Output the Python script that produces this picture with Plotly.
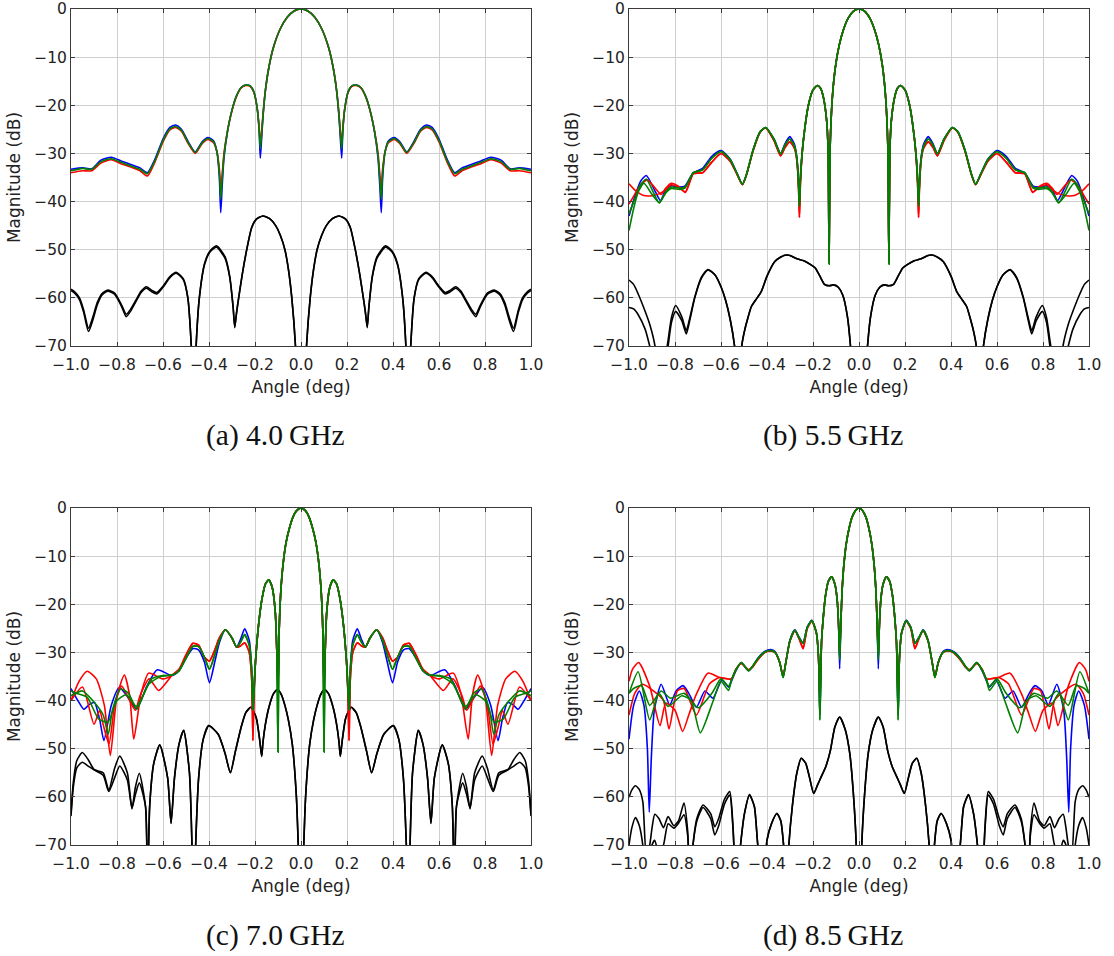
import plotly.graph_objects as go

# ---------------- Panel (a) 4.0 GHz : positive half (mirrored about 0) ----------------
A_x = [0, 0.03, 0.06, 0.09, 0.12, 0.14, 0.155, 0.165, 0.172, 0.177, 0.182, 0.19, 0.205, 0.22, 0.24,
       0.26, 0.28, 0.30, 0.32, 0.335, 0.343, 0.349, 0.355, 0.365, 0.38, 0.405, 0.43, 0.46, 0.49, 0.52,
       0.545, 0.57, 0.60, 0.635, 0.668, 0.70, 0.74, 0.78, 0.825, 0.87, 0.91, 0.95, 1.0]
A_green = [0, -0.4, -1.7, -4.1, -8.0, -12.2, -17.0, -22.0, -26.5, -29.0, -25.0, -20.8, -17.2, -16.0, -15.8,
           -16.3, -18.0, -21.0, -25.5, -30.5, -35.5, -39.5, -34.0, -29.8, -27.6, -26.9, -27.8, -29.8, -27.8, -25.2,
           -24.4, -24.9, -27.3, -31.5, -34.2, -33.3, -32.6, -31.9, -31.1, -31.7, -33.3, -33.1, -33.6]
A_blue = [0, -0.4, -1.7, -4.1, -8.0, -12.2, -17.0, -22.2, -27.5, -31.0, -25.2, -20.8, -17.2, -16.0, -15.8,
          -16.3, -18.0, -21.0, -25.6, -31.0, -37.0, -42.3, -35.0, -29.8, -27.4, -26.7, -27.6, -29.7, -27.6, -25.0,
          -24.1, -24.6, -27.0, -31.2, -34.0, -33.0, -32.3, -31.6, -30.8, -31.4, -33.2, -33.0, -33.3]
A_red = [0, -0.4, -1.7, -4.1, -8.0, -12.2, -17.0, -21.8, -25.8, -28.0, -24.6, -20.8, -17.3, -16.1, -15.9,
         -16.4, -18.1, -21.1, -25.4, -30.0, -34.5, -37.0, -33.2, -29.8, -27.8, -27.1, -28.0, -30.0, -28.0, -25.4,
         -24.6, -25.1, -27.6, -31.8, -34.7, -33.6, -32.8, -32.2, -31.3, -32.0, -33.6, -33.6, -34.0]
A_kx = [0, 0.012, 0.024, 0.04, 0.055, 0.07, 0.09, 0.11, 0.135, 0.166, 0.195, 0.215, 0.236, 0.255, 0.271,
        0.28, 0.288, 0.295, 0.31, 0.33, 0.367, 0.395, 0.419, 0.442, 0.456, 0.466, 0.477, 0.492, 0.512, 0.543,
        0.57, 0.6, 0.627, 0.65, 0.672, 0.695, 0.718, 0.74, 0.76, 0.78, 0.81, 0.84, 0.865, 0.886, 0.905,
        0.924, 0.945, 0.963, 0.985, 1.0]
A_k1 = [-100, -85, -70, -60, -54, -50, -47, -45, -43.6, -43.0, -43.7, -45.5, -50, -55, -60,
        -63, -66.2, -62, -55.5, -51.5, -49.2, -50.2, -52.8, -60, -70, -85, -70, -60, -56, -54.7,
        -55.6, -57.6, -58.9, -58.4, -57.7, -58.6, -60.5, -62.3, -63.4, -61.5, -59, -58.4, -59.1, -61, -64,
        -66.3, -62.5, -60, -58.7, -58.2]
A_k2 = [-100, -85, -70, -60, -54, -50, -47, -45, -43.6, -43.0, -43.7, -45.5, -50, -55, -60,
        -63, -66.0, -62, -55.7, -51.8, -49.5, -50.4, -53.0, -60, -70, -85, -70, -60, -56.2, -54.9,
        -55.8, -57.8, -59.2, -58.7, -58.0, -58.9, -60.8, -62.7, -63.9, -61.8, -59.3, -58.6, -59.4, -61.5, -64.6,
        -67.0, -63, -60.4, -59, -58.5]

# ---------------- Panel (b) 5.5 GHz ----------------
B_x = [0, 0.025, 0.047, 0.067, 0.085, 0.1, 0.112, 0.12, 0.126, 0.13, 0.134, 0.14, 0.155, 0.168, 0.181,
       0.2, 0.22, 0.24, 0.25, 0.256, 0.259, 0.263, 0.27, 0.28, 0.301, 0.322, 0.341, 0.37, 0.406, 0.43,
       0.46, 0.49, 0.507, 0.53, 0.56, 0.6, 0.64, 0.68, 0.72]
B_blue = [0, -0.5, -1.9, -4.2, -7.3, -11.2, -16.1, -21.7, -29.9, -52, -30, -23.5, -18.3, -16.4, -15.9,
          -16.8, -20, -26.5, -31.5, -36.5, -41, -36, -31, -28.2, -26.5, -28, -30, -27, -24.6, -25.5,
          -29.2, -34.5, -36.4, -34.2, -31.2, -29.4, -30.6, -33.1, -34]
B_green = [0, -0.5, -1.9, -4.2, -7.3, -11.2, -16.1, -21.7, -29.9, -53, -30, -23.5, -18.3, -16.4, -15.9,
           -16.8, -20, -26.5, -31.5, -36.5, -41, -36, -31, -28.6, -27.0, -28.3, -30.1, -27, -24.6, -25.5,
           -29.2, -34.5, -36.4, -34.2, -31.3, -29.6, -31.0, -33.4, -34]
B_red = [0, -0.5, -1.9, -4.2, -7.3, -11.2, -16.1, -21.7, -29.9, -52.5, -30, -23.5, -18.3, -16.4, -15.9,
         -16.8, -20, -26.5, -32, -38, -43.3, -37, -31.5, -29, -27.6, -28.8, -30.5, -27.3, -24.7, -25.6,
         -29.4, -34.6, -36.5, -34.4, -31.6, -30.0, -31.8, -34.0, -34.2]
B_blue_ox = [0.72, 0.757, 0.78, 0.816, 0.84, 0.863, 0.89, 0.925, 0.95, 0.975, 1.0]
B_blue_oy = [-34, -36.8, -37, -36.7, -37.5, -39.8, -37.5, -34.6, -35.8, -39, -43]
B_green_ox = [0.72, 0.757, 0.78, 0.816, 0.84, 0.868, 0.895, 0.925, 0.95, 0.975, 1.0]
B_green_oy = [-34, -37.0, -37.2, -37, -38, -40.3, -38, -35.3, -36.5, -39.5, -42.5]
B_green2_ox = [0.72, 0.757, 0.78, 0.816, 0.84, 0.868, 0.9, 0.935, 0.96, 0.98, 1.0]
B_green2_oy = [-34, -37.2, -37.5, -37.3, -38.2, -40.2, -38.5, -36.2, -38, -41.5, -46]
B_red_ox = [0.72, 0.755, 0.785, 0.817, 0.84, 0.86, 0.89, 0.92, 0.95, 0.975, 1.0]
B_red_oy = [-34.2, -38.1, -36.8, -36.2, -37.2, -38.5, -37, -35.5, -36.5, -38.5, -40.5]
B_red2_ox = [0.72, 0.755, 0.785, 0.817, 0.84, 0.865, 0.9, 0.94, 0.97, 1.0]
B_red2_oy = [-34.2, -38.0, -37, -36.5, -37.5, -38.3, -38.8, -38.7, -37.8, -36.3]
B_kx = [0, 0.02, 0.037, 0.05, 0.07, 0.09, 0.11, 0.13, 0.15, 0.17, 0.19, 0.21, 0.24, 0.27, 0.3,
        0.316, 0.34, 0.367, 0.4, 0.425, 0.45, 0.468, 0.485, 0.497, 0.51, 0.525, 0.541, 0.56, 0.58, 0.6,
        0.625, 0.657, 0.685, 0.714, 0.735, 0.751, 0.77, 0.797, 0.815, 0.83, 0.85, 0.868, 0.887, 0.91, 0.93,
        0.96, 0.98, 1.0]
B_k1 = [-100, -82, -70, -64, -59.5, -57.8, -57.3, -57.5, -57.2, -55.5, -53.8, -53.1, -52.3, -51.9, -51.2,
        -51.1, -51.5, -52.5, -55.5, -58.7, -60.5, -61.8, -64.5, -66.7, -70, -80, -70, -64.5, -60.5, -57.7,
        -55.3, -54.1, -55.7, -59.8, -64, -66.8, -64, -61.6, -64, -68.8, -75, -80, -70, -65.5, -62.8,
        -59.2, -57.2, -56.3]
B_k2 = [-100, -82, -70, -64, -59.5, -57.8, -57.3, -57.5, -57.2, -55.5, -53.8, -53.1, -52.3, -51.9, -51.2,
        -51.1, -51.5, -52.5, -55.5, -58.7, -60.5, -61.8, -64.5, -66.7, -70, -80, -70, -64.5, -60.5, -57.7,
        -55.3, -54.2, -55.9, -60.0, -64.5, -67.5, -64.8, -62.8, -65, -70, -76, -78, -75, -70, -66.5,
        -63.5, -62.3, -62]

# ---------------- Panel (c) 7.0 GHz ----------------
C_x = [0, 0.02, 0.035, 0.051, 0.065, 0.078, 0.088, 0.095, 0.1, 0.105, 0.112, 0.125, 0.14, 0.155, 0.17,
       0.185, 0.198, 0.205, 0.209, 0.214, 0.225, 0.245, 0.262, 0.28, 0.3, 0.329, 0.355, 0.375, 0.398, 0.42,
       0.445, 0.47, 0.5, 0.53, 0.56]
C_green = [0, -0.6, -1.9, -4.3, -7.2, -11.7, -17.5, -25.6, -50.7, -30, -21.5, -16.5, -14.9, -15.8, -19,
           -24.5, -32, -38, -42, -34, -28.5, -26.3, -27.8, -28.9, -27, -25.3, -27.5, -30.5, -33.5, -31,
           -28.8, -28.7, -31.2, -33.8, -34.7]
C_blue = [0, -0.6, -1.9, -4.3, -7.2, -11.7, -17.5, -25.6, -38, -30, -21.5, -16.5, -14.9, -15.8, -19,
          -24.5, -32, -39, -44, -34, -27.5, -25.1, -27.2, -28.9, -27, -25.3, -28, -32, -36.3, -32,
          -29.5, -29.2, -31.2, -33.8, -34.8]
C_red = [0, -0.6, -1.9, -4.3, -7.2, -11.7, -17.5, -25.6, -38, -30, -21.5, -16.5, -14.9, -15.8, -19,
         -24.5, -32, -40, -48.3, -36, -30, -28, -28.6, -28.9, -27, -25.3, -27, -29.5, -31.8, -31,
         -28.5, -28.1, -30.5, -33.5, -34.7]
C_blue_ox = [0.56, 0.625, 0.67, 0.715, 0.75, 0.79, 0.825, 0.857, 0.875, 0.898, 0.92, 0.944, 0.97, 1.0]
C_blue_oy = [-34.8, -33.6, -37, -41.8, -39.5, -37.3, -41, -48.3, -44, -40.4, -40.8, -41.8, -40, -37.5]
C_red_ox = [0.56, 0.6, 0.662, 0.695, 0.727, 0.745, 0.768, 0.8, 0.829, 0.855, 0.89, 0.93, 0.965, 1.0]
C_red_oy = [-34.7, -35.5, -34.3, -38.5, -48, -39, -34.7, -39, -51.4, -41, -35.5, -33.9, -36, -40]
C_red2_ox = [0.56, 0.619, 0.66, 0.7, 0.72, 0.75, 0.78, 0.81, 0.835, 0.86, 0.875, 0.9, 0.95, 1.0]
C_red2_oy = [-34.8, -37.9, -35.5, -39, -42, -39.5, -37, -41, -49, -45, -42, -44.9, -37.2, -40]
C_green_ox = [0.56, 0.6, 0.65, 0.7, 0.715, 0.75, 0.784, 0.82, 0.838, 0.86, 0.9, 0.95, 1.0]
C_green_oy = [-34.7, -34.8, -35.5, -40.5, -41.8, -38.5, -37.6, -42, -47, -43, -40.3, -38, -39]
C_green2_ox = [0.56, 0.61, 0.66, 0.715, 0.76, 0.8, 0.84, 0.88, 0.93, 0.97, 1.0]
C_green2_oy = [-34.8, -35, -36.5, -41.2, -38.8, -40, -44.5, -43.8, -39.3, -38.6, -38]
C_kx = [0, 0.006, 0.012, 0.02, 0.038, 0.055, 0.07, 0.085, 0.102, 0.12, 0.14, 0.155, 0.165, 0.171, 0.18,
        0.195, 0.218, 0.24, 0.26, 0.285, 0.307, 0.33, 0.36, 0.401, 0.425, 0.445, 0.458, 0.466, 0.474, 0.485,
        0.51, 0.53, 0.55, 0.565, 0.58, 0.614, 0.64, 0.658, 0.667, 0.676, 0.703, 0.72, 0.735, 0.755, 0.788,
        0.81, 0.836, 0.86, 0.9, 0.925, 0.951, 0.975, 0.99, 1.0]
C_k1 = [-100, -80, -70, -60, -49, -44, -41, -38.8, -37.7, -38.6, -41.5, -45, -48.5, -51.6, -48,
        -43.5, -41.4, -42.5, -45.5, -50.5, -55, -51, -47, -45.2, -48, -56, -70, -85, -70, -55,
        -46.2, -49, -56, -65.5, -56, -49.2, -53, -62, -80, -62, -55.1, -58, -62.5, -55, -51.5,
        -54, -58.6, -55, -54.3, -52.3, -50.8, -52.5, -57, -63.5]
C_k2 = [-100, -80, -70, -60, -49, -44, -41, -38.8, -37.7, -38.6, -41.5, -45, -48.5, -51.6, -48,
        -43.5, -41.4, -42.5, -45.5, -50.5, -55, -51, -47, -45.2, -48, -56, -70, -85, -70, -55,
        -46.2, -49, -56, -65.5, -56, -49.2, -53, -62, -80, -62, -57.1, -59.5, -62.3, -56.5, -53.6,
        -56, -58.9, -55.5, -54.4, -53.6, -52.8, -54, -58, -64]

# ---------------- Panel (d) 8.5 GHz ----------------
D_x = [0, 0.015, 0.03, 0.043, 0.055, 0.065, 0.073, 0.079, 0.084, 0.089, 0.095, 0.105, 0.119, 0.133, 0.145,
       0.155, 0.163, 0.17, 0.176, 0.185, 0.205, 0.225, 0.243, 0.26, 0.279, 0.3, 0.318, 0.33, 0.345, 0.365,
       0.383, 0.41, 0.44, 0.462, 0.48, 0.512, 0.535, 0.555]
D_green = [0, -0.5, -1.9, -4.2, -7.3, -11.4, -16.7, -24, -31.5, -24, -19, -15.8, -14.3, -15.2, -18,
           -22.5, -28, -44, -31, -26, -23.4, -24.8, -28.1, -27, -25.4, -27.5, -32, -35.2, -32, -30,
           -29.6, -29.9, -31.3, -32.8, -33.8, -32.1, -33.6, -35.8]
D_blue = [0, -0.5, -1.9, -4.2, -7.3, -11.4, -16.7, -24, -33.4, -24, -19, -15.8, -14.3, -15.2, -18,
          -22.5, -28, -43, -31, -26, -23.3, -24.7, -28.0, -26.9, -25.3, -27.4, -32, -35.1, -32, -29.8,
          -29.4, -29.8, -31.2, -32.9, -33.8, -32.1, -33.8, -36]
D_red = [0, -0.5, -1.9, -4.2, -7.3, -11.4, -16.7, -24, -30, -24, -19, -15.8, -14.3, -15.2, -18,
         -22.5, -28, -40, -31, -26, -23.5, -25, -29.2, -27.2, -25.5, -27.6, -32, -35, -32.1, -30,
         -29.7, -30, -31.5, -33, -33.6, -32.3, -33.5, -35.5]
D_blue_ox = [0.555, 0.567, 0.596, 0.635, 0.67, 0.707, 0.74, 0.765, 0.795, 0.823, 0.86, 0.89, 0.903, 0.912,
             0.92, 0.935, 0.955, 0.98, 1.0]
D_blue_oy = [-36, -37.2, -35.7, -39.5, -38, -41.4, -38.5, -36.9, -38, -40.9, -36.6, -42, -52, -63.2,
             -50, -41, -38, -41, -48]
D_red_ox = [0.555, 0.606, 0.657, 0.71, 0.74, 0.767, 0.8, 0.84, 0.865, 0.91, 0.958, 0.985, 1.0]
D_red_oy = [-35.5, -35.2, -34.3, -39, -43, -46.4, -42, -40.5, -45.2, -37, -32.1, -33.5, -36]
D_red2_ox = [0.555, 0.606, 0.65, 0.707, 0.76, 0.79, 0.826, 0.85, 0.88, 0.943, 0.975, 1.0]
D_red2_oy = [-35.5, -35.2, -36.5, -43, -37.5, -38, -45.9, -40, -38.5, -36.6, -38.5, -43]
D_green_ox = [0.555, 0.567, 0.6, 0.635, 0.69, 0.73, 0.77, 0.83, 0.87, 0.91, 0.96, 1.0]
D_green_oy = [-36, -37.9, -36, -40.2, -46.7, -40, -39, -41.2, -38.5, -44, -34, -38.5]
D_green2_ox = [0.555, 0.567, 0.6, 0.64, 0.7, 0.76, 0.82, 0.86, 0.91, 0.945, 0.98, 1.0]
D_green2_oy = [-36, -37, -35.5, -38.5, -41.5, -38.5, -39.5, -38, -41, -36.9, -37.5, -38.5]
D_kx = [0, 0.006, 0.012, 0.025, 0.04, 0.06, 0.084, 0.105, 0.125, 0.145, 0.164, 0.18, 0.197, 0.215, 0.232,
        0.251, 0.27, 0.29, 0.305, 0.315, 0.328, 0.34, 0.357, 0.38, 0.4, 0.415, 0.44, 0.455, 0.476, 0.498,
        0.515, 0.533, 0.548, 0.562, 0.585, 0.61, 0.627, 0.645, 0.678, 0.705, 0.722, 0.735, 0.745, 0.761,
        0.785, 0.805, 0.83, 0.85, 0.87, 0.888, 0.9, 0.91, 0.925, 0.94, 0.955, 0.972, 0.988, 1.0]
D_k1 = [-100, -85, -70, -59, -51, -46, -43.4, -45.5, -50.5, -53.8, -55.8, -57.5, -59.3, -56, -53,
        -52, -55, -62, -70, -80, -70, -65, -63.4, -65.5, -69, -78, -70, -62, -59.5, -63.5,
        -70, -80, -66, -58.9, -60.5, -64.5, -66.2, -63.5, -61.7, -64.5, -70, -78, -67, -61.3,
        -65, -66, -64.1, -66.4, -64.5, -63.6, -66.5, -70, -72, -61, -58.5, -57.7, -58.6, -60.1]
D_k2 = [-100, -85, -70, -59, -51, -46, -43.4, -45.5, -50.5, -53.8, -55.8, -57.5, -59.3, -56, -53,
        -52, -55, -62, -70, -80, -70, -65, -63.5, -65.5, -69, -78, -70, -62, -59.7, -63.5,
        -70, -80, -66.5, -59.6, -61.5, -66, -67.9, -64.5, -62.2, -65, -70, -78, -68, -63.7,
        -65.5, -66.5, -65.6, -70, -72, -69, -70, -74, -78, -70, -66, -64.3, -66.5, -70]

X_TICKS = [-1.0, -0.8, -0.6, -0.4, -0.2, 0.0, 0.2, 0.4, 0.6, 0.8, 1.0]
Y_TICKS = [-70, -60, -50, -40, -30, -20, -10, 0]
CAPTIONS = ["(a) 4.0\u2009GHz", "(b) 5.5\u2009GHz", "(c) 7.0\u2009GHz", "(d) 8.5\u2009GHz"]


def mirror(xh, yh):
    """Build the full symmetric curve from the read positive half."""
    xs = [-v for v in reversed(xh)] + list(xh[1:])
    ys = list(reversed(yh)) + list(yh[1:])
    return xs, ys


def join(cx, cy, ox=None, oy=None):
    if ox is None:
        return list(cx), list(cy)
    return list(cx) + list(ox[1:]), list(cy) + list(oy[1:])


BLUE, RED, GREEN, BLACK = "#0000ff", "#ff0000", "#007f00", "#000000"

panels = [
    dict(k=[(A_kx, A_k2), (A_kx, A_k1)],
         col=[(BLUE, join(A_x, A_blue)), (RED, join(A_x, A_red)), (GREEN, join(A_x, A_green))]),
    dict(k=[(B_kx, B_k2), (B_kx, B_k1)],
         col=[(BLUE, join(B_x, B_blue, B_blue_ox, B_blue_oy)),
              (RED, join(B_x, B_red, B_red_ox, B_red_oy)),
              (RED, join(B_x, B_red, B_red2_ox, B_red2_oy)),
              (GREEN, join(B_x, B_green, B_green2_ox, B_green2_oy)),
              (GREEN, join(B_x, B_green, B_green_ox, B_green_oy))]),
    dict(k=[(C_kx, C_k2), (C_kx, C_k1)],
         col=[(BLUE, join(C_x, C_blue, C_blue_ox, C_blue_oy)),
              (RED, join(C_x, C_red, C_red_ox, C_red_oy)),
              (RED, join(C_x, C_red, C_red2_ox, C_red2_oy)),
              (GREEN, join(C_x, C_green, C_green2_ox, C_green2_oy)),
              (GREEN, join(C_x, C_green, C_green_ox, C_green_oy))]),
    dict(k=[(D_kx, D_k2), (D_kx, D_k1)],
         col=[(BLUE, join(D_x, D_blue, D_blue_ox, D_blue_oy)),
              (RED, join(D_x, D_red, D_red_ox, D_red_oy)),
              (RED, join(D_x, D_red, D_red2_ox, D_red2_oy)),
              (GREEN, join(D_x, D_green, D_green2_ox, D_green2_oy)),
              (GREEN, join(D_x, D_green, D_green_ox, D_green_oy))]),
]

W, H = 1114, 956
# plot-area pixel boxes (left, right, top, bottom)
boxes = [(71, 531, 9, 346), (629, 1089, 9, 346), (71, 531, 508, 845), (629, 1089, 508, 845)]
cap_pos = [(275, 435), (833, 435), (275, 935), (833, 935)]

TXT = "#222222"
fig = go.Figure()
annotations = []
layout_axes = {}
for i, (p, box) in enumerate(zip(panels, boxes)):
    n = i + 1
    xa = "x" if n == 1 else f"x{n}"
    ya = "y" if n == 1 else f"y{n}"
    for kx, ky in p["k"]:
        xs, ys = mirror(kx, ky)
        fig.add_trace(go.Scatter(x=xs, y=ys, mode="lines", xaxis=xa, yaxis=ya,
                                 line=dict(color=BLACK, width=1.6, shape="spline", smoothing=0.6),
                                 showlegend=False, hoverinfo="skip"))
    for color, (cx, cy) in p["col"]:
        xs, ys = mirror(cx, cy)
        fig.add_trace(go.Scatter(x=xs, y=ys, mode="lines", xaxis=xa, yaxis=ya,
                                 line=dict(color=color, width=1.6, shape="spline", smoothing=0.6),
                                 showlegend=False, hoverinfo="skip"))
    l, r, t, b = box
    common = dict(showgrid=True, gridcolor="#cfcfcf", gridwidth=1, zeroline=False,
                  showline=True, linecolor="#3a3a3a", linewidth=1, mirror="ticks",
                  ticks="inside", ticklen=4, tickcolor="#3a3a3a", automargin=False,
                  tickfont=dict(family="DejaVu Sans", size=15.5, color=TXT))
    layout_axes["xaxis" if n == 1 else f"xaxis{n}"] = dict(
        common, domain=[l / W, r / W], range=[-1, 1], anchor=ya,
        tickmode="array", tickvals=X_TICKS, ticklabelstandoff=4,
        ticktext=[("\u2212" if v < 0 else "") + f"{abs(v):.1f}" for v in X_TICKS],
        title=dict(text="Angle (deg)", standoff=8,
                   font=dict(family="DejaVu Sans", size=17, color=TXT)))
    layout_axes["yaxis" if n == 1 else f"yaxis{n}"] = dict(
        common, domain=[1 - b / H, 1 - t / H], range=[-70, 0], anchor=xa,
        tickmode="array", tickvals=Y_TICKS,
        ticktext=[("\u2212" if v < 0 else "") + f"{abs(v)}" for v in Y_TICKS],
        title=dict(text="Magnitude (dB)", standoff=9,
                   font=dict(family="DejaVu Sans", size=17, color=TXT)))
    cx_, cy_ = cap_pos[i]
    annotations.append(dict(text=CAPTIONS[i], x=cx_ / W, y=1 - cy_ / H, xref="paper", yref="paper",
                             showarrow=False, xanchor="center", yanchor="middle",
                             font=dict(family="Liberation Serif", size=29.5, color="#111111")))

fig.update_layout(width=W, height=H, margin=dict(l=0, r=0, t=0, b=0, autoexpand=False),
                  paper_bgcolor="white", plot_bgcolor="white", showlegend=False,
                  annotations=annotations, **layout_axes)
fig.write_html("out.html")
